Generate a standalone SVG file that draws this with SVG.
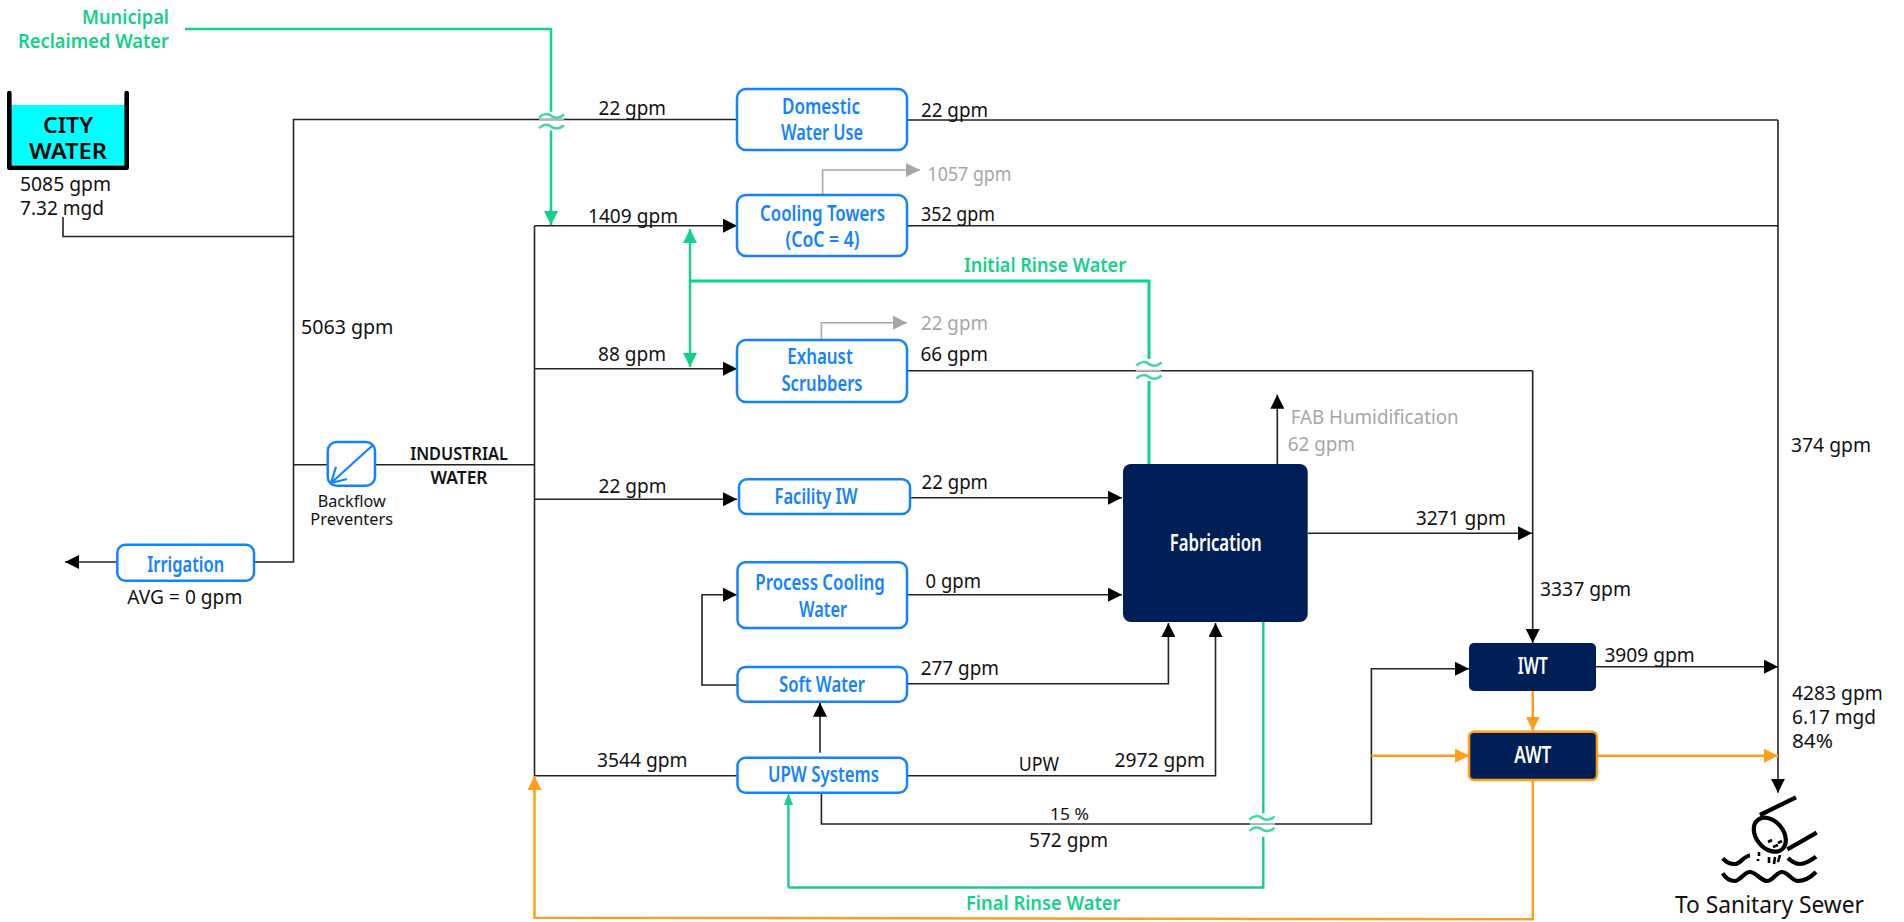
<svg xmlns="http://www.w3.org/2000/svg" xmlns:xlink="http://www.w3.org/1999/xlink" width="1904" height="922" viewBox="0 0 1904 922">
<style>
text{font-family:"Noto Sans","Open Sans","Liberation Sans",sans-serif;font-size:20px;fill:#111}
.g{fill:#a6a6a6}
.lb{font-weight:600;font-size:21.5px;fill:#1482ff;text-anchor:middle}
.gt{font-weight:600;font-size:20px;fill:#14d18a}
.wt{font-weight:600;font-size:23px;fill:#fff;text-anchor:middle}
.box{fill:#fff;stroke:#1482ff;stroke-width:2.5}
.navy{fill:#001f56}
.k{fill:none;stroke:#222;stroke-width:1.6}
.gr{fill:none;stroke:#a6a6a6;stroke-width:1.6}
.gn{fill:none;stroke:#14d18a;stroke-width:3}
.or{fill:none;stroke:#ff9e1b;stroke-width:2.5}
.ak{marker-end:url(#ak)}
.agr{marker-end:url(#agr)}
.agn{marker-end:url(#agn)}
.aor{marker-end:url(#aor)}
.wave{fill:none;stroke:#3fd8a0;stroke-width:2.5}
.seg{fill:none;stroke:#b5b5b5;stroke-width:1.8}
.ic{fill:none;stroke:#000;stroke-width:4.2}
.id{fill:none;stroke:#000;stroke-width:2.6}
</style>
<defs>
<marker id="ak" markerUnits="userSpaceOnUse" markerWidth="14" markerHeight="14" viewBox="0 0 13 13" refX="13" refY="6.5" orient="auto"><path d="M0 0L13 6.5L0 13Z" fill="#000"/></marker>
<marker id="agr" markerUnits="userSpaceOnUse" markerWidth="14" markerHeight="14" viewBox="0 0 13 13" refX="13" refY="6.5" orient="auto"><path d="M0 0L13 6.5L0 13Z" fill="#a6a6a6"/></marker>
<marker id="agn" markerUnits="userSpaceOnUse" markerWidth="14" markerHeight="14" viewBox="0 0 13 13" refX="13" refY="6.5" orient="auto"><path d="M0 0L13 6.5L0 13Z" fill="#14d18a"/></marker>
<marker id="aor" markerUnits="userSpaceOnUse" markerWidth="14" markerHeight="14" viewBox="0 0 13 13" refX="13" refY="6.5" orient="auto"><path d="M0 0L13 6.5L0 13Z" fill="#ff9e1b"/></marker>
<path id="w" class="wave" d="M-12.5 1.5C-8-3-3-2.5 0 0S8 2.5 12.5-1.5"/>
</defs>

<g id="connectors">
<path class="k" d="M63 217V236.5H293.5"/>
<path class="k" d="M738 119.5H293.5V562H254"/>
<path class="k ak" d="M117 562H65"/>
<path class="k" d="M293.5 464.7H328M375 464.7H534.5"/>
<path class="k" d="M907 120H1778"/>
<path class="k" d="M907 225.7H1778"/>
<path class="k ak" d="M1778 120V792.7"/>
<path class="k ak" d="M534.5 225.7H737"/>
<path class="k" d="M534.5 225.7V775.7H737"/>
<path class="k ak" d="M534.5 368.7H737"/>
<path class="k ak" d="M534.5 499.3H737"/>
<path class="gr agr" d="M822.6 195V170H920"/>
<path class="gr agr" d="M821.4 340V322.7H907"/>
<path class="k" d="M907 370.7H1532.7"/>
<path class="k ak" d="M1532.7 370.7V643"/>
<path class="k ak" d="M910 497.7H1122"/>
<path class="k ak" d="M907 594.7H1122"/>
<path class="k ak" d="M737 685H702V594.7H737"/>
<path class="k ak" d="M907 683.7H1168.4V623"/>
<path class="k ak" d="M907 775.7H1215.5V623"/>
<path class="k ak" d="M820 752.7V702.7"/>
<path class="k ak" d="M821.4 792.7V824H1371.4V668.7H1469"/>
<path class="k ak" d="M1277.3 464V394.7"/>
<path class="k ak" d="M1308 533.3H1532"/>
<path class="k ak" d="M1596 666.7H1778"/>
<path class="or aor" d="M1532.8 691V730.7"/>
<path class="or aor" d="M1371.4 755.7H1469"/>
<path class="or aor" d="M1597 755.7H1778"/>
<path class="or aor" d="M1532.8 780V919.3L534.5 917.7V776"/>
<path class="gn" style="stroke-width:2.6" d="M185 29H551V111.7"/>
<path class="gn agn" style="stroke-width:2.6" d="M551 130.7V225"/>
<path class="gn" d="M1149 464V381M1149 359V281H690"/>
<path class="gn agn" style="stroke-width:2.4" d="M690 281V229"/>
<path class="gn agn" style="stroke-width:2.4" d="M690 281V367"/>
<path class="gn" style="stroke-width:2.4" d="M1263.3 622V813.3M1263.3 836.7V887.5H788.4"/>
<path class="gn" style="stroke-width:2.4" d="M788.4 887.5V800"/>
<path fill="#14d18a" d="M788.4 793L793 805H784Z"/>
<path class="seg" d="M539 119.5H564M1136 370.7H1161M1250 824H1275"/>
<use xlink:href="#w" x="551.5" y="116"/>
<use xlink:href="#w" x="551.5" y="126.7"/>
<use xlink:href="#w" x="1149" y="364"/>
<use xlink:href="#w" x="1149" y="377"/>
<use xlink:href="#w" x="1262" y="818"/>
<use xlink:href="#w" x="1262" y="829.3"/>
</g>

<g id="city-water">
<rect x="10" y="105" width="116" height="60" fill="#00ffff"/>
<path fill="none" stroke="#000" stroke-width="4.6" stroke-linejoin="round" stroke-linecap="round" d="M9.3 93V167.7H126.7V93"/>
<text x="68" y="132.7" text-anchor="middle" textLength="50" lengthAdjust="spacingAndGlyphs" style="font-size:21.5px;font-weight:600;fill:#000">CITY</text>
<text x="68" y="159" text-anchor="middle" textLength="78" lengthAdjust="spacingAndGlyphs" style="font-size:21.5px;font-weight:600;fill:#000">WATER</text>
<text x="20" y="191" textLength="91" lengthAdjust="spacingAndGlyphs">5085 gpm</text>
<text x="20" y="215" textLength="84" lengthAdjust="spacingAndGlyphs">7.32 mgd</text>
</g>

<g id="municipal">
<text class="gt" x="169" y="24" text-anchor="end" textLength="87" lengthAdjust="spacingAndGlyphs">Municipal</text>
<text class="gt" x="169" y="48" text-anchor="end" textLength="151" lengthAdjust="spacingAndGlyphs">Reclaimed Water</text>
</g>

<g id="domestic">
<rect class="box" x="737" y="89" width="170" height="61" rx="9"/>
<text class="lb" x="821" y="114" textLength="78" lengthAdjust="spacingAndGlyphs">Domestic</text>
<text class="lb" x="822" y="140" textLength="82" lengthAdjust="spacingAndGlyphs">Water Use</text>
</g>
<g id="cooling-towers">
<rect class="box" x="737" y="195" width="170" height="61" rx="9"/>
<text class="lb" x="822.5" y="220.7" textLength="125" lengthAdjust="spacingAndGlyphs">Cooling Towers</text>
<text class="lb" x="822.5" y="247" textLength="74" lengthAdjust="spacingAndGlyphs">(CoC = 4)</text>
</g>
<g id="exhaust-scrubbers">
<rect class="box" x="737" y="340" width="170" height="62" rx="9"/>
<text class="lb" x="820" y="364" textLength="65.5" lengthAdjust="spacingAndGlyphs">Exhaust</text>
<text class="lb" x="822" y="390.7" textLength="81" lengthAdjust="spacingAndGlyphs">Scrubbers</text>
</g>
<g id="facility-iw">
<rect class="box" x="739" y="479.3" width="171" height="34.7" rx="8"/>
<text class="lb" x="816" y="504" textLength="83" lengthAdjust="spacingAndGlyphs">Facility IW</text>
</g>
<g id="process-cooling">
<rect class="box" x="737.5" y="562.3" width="169.5" height="65.7" rx="8"/>
<text class="lb" x="820" y="590" textLength="129.4" lengthAdjust="spacingAndGlyphs">Process Cooling</text>
<text class="lb" x="823" y="616.7" textLength="48" lengthAdjust="spacingAndGlyphs">Water</text>
</g>
<g id="soft-water">
<rect class="box" x="737.5" y="667" width="169.5" height="34.7" rx="8"/>
<text class="lb" x="822" y="691.7" textLength="85.8" lengthAdjust="spacingAndGlyphs">Soft Water</text>
</g>
<g id="upw-systems">
<rect class="box" x="737.5" y="757.7" width="169.5" height="35" rx="8"/>
<text class="lb" x="823.5" y="782" textLength="111" lengthAdjust="spacingAndGlyphs">UPW Systems</text>
</g>
<g id="irrigation">
<rect class="box" x="117.3" y="544.7" width="136.7" height="36" rx="8"/>
<text class="lb" x="185.7" y="572" textLength="77" lengthAdjust="spacingAndGlyphs">Irrigation</text>
<text x="127.3" y="604" textLength="115" lengthAdjust="spacingAndGlyphs">AVG = 0 gpm</text>
</g>
<g id="backflow-preventers">
<rect class="box" x="327.7" y="442" width="47.3" height="43.7" rx="9"/>
<path fill="none" stroke="#1482ff" stroke-width="2.2" d="M373 445L331 483M336 466.7L331 483L347 479"/>
<text x="351.7" y="506.7" text-anchor="middle" textLength="68" lengthAdjust="spacingAndGlyphs" style="font-size:16px">Backflow</text>
<text x="351.7" y="525" text-anchor="middle" textLength="82.7" lengthAdjust="spacingAndGlyphs" style="font-size:16px">Preventers</text>
</g>
<g id="industrial-water">
<text x="459" y="460" text-anchor="middle" textLength="97.7" lengthAdjust="spacingAndGlyphs" style="font-size:17px;font-weight:600">INDUSTRIAL</text>
<text x="459" y="484" text-anchor="middle" textLength="57" lengthAdjust="spacingAndGlyphs" style="font-size:17px;font-weight:600">WATER</text>
</g>
<g id="fabrication">
<rect class="navy" x="1123" y="464" width="184.7" height="158" rx="8"/>
<text class="wt" x="1215.7" y="550.7" textLength="92" lengthAdjust="spacingAndGlyphs">Fabrication</text>
</g>
<g id="iwt">
<rect class="navy" x="1469" y="643" width="127" height="48" rx="5"/>
<text class="wt" x="1532.8" y="674.3" textLength="30" lengthAdjust="spacingAndGlyphs">IWT</text>
</g>
<g id="awt">
<rect class="navy" x="1469" y="731.7" width="128" height="48.3" rx="5" stroke="#ff9e1b" stroke-width="2.5"/>
<text class="wt" x="1532.8" y="763.3" textLength="37" lengthAdjust="spacingAndGlyphs">AWT</text>
</g>
<g id="sanitary-sewer">
<ellipse class="ic" cx="1769.8" cy="834.7" rx="19" ry="13.5" transform="rotate(50 1769.8 834.7)"/>
<path class="ic" d="M1760 815L1796 797.3M1787.3 849.3L1816.7 832.7"/>
<path class="ic" d="M1722.7 858.3C1726 862 1730 864 1735 864S1744 856 1750 855.5M1788 858C1792 862 1796 864 1800 864S1812 860 1816 856.7"/>
<path class="ic" d="M1722.7 873.3C1726 879 1730 881 1735 881S1744 872 1750 872S1761 881 1767 881S1776 872 1782 872S1792 881 1798 881S1810 878 1816 872"/>
<path class="id" d="M1768 842L1772 840M1778 843L1782 841M1773 847L1778 845M1759 852V856M1758 859V861M1769 857V863M1775 857L1774 864M1780 855L1778 862"/>
<text x="1675" y="913" textLength="189" lengthAdjust="spacingAndGlyphs" style="font-size:23px">To Sanitary Sewer</text>
</g>

<g id="flow-labels">
<text x="598.6" y="115" textLength="67.4" lengthAdjust="spacingAndGlyphs">22 gpm</text>
<text x="921" y="116.7" textLength="67" lengthAdjust="spacingAndGlyphs">22 gpm</text>
<text class="g" x="927.5" y="180.7" textLength="84" lengthAdjust="spacingAndGlyphs">1057 gpm</text>
<text x="588" y="222.7" textLength="90" lengthAdjust="spacingAndGlyphs">1409 gpm</text>
<text x="921" y="221" textLength="74" lengthAdjust="spacingAndGlyphs">352 gpm</text>
<text class="gt" x="964" y="272" textLength="162" lengthAdjust="spacingAndGlyphs">Initial Rinse Water</text>
<text class="g" x="921" y="330" textLength="67" lengthAdjust="spacingAndGlyphs">22 gpm</text>
<text x="598" y="361" textLength="68" lengthAdjust="spacingAndGlyphs">88 gpm</text>
<text x="920.5" y="361" textLength="67.5" lengthAdjust="spacingAndGlyphs">66 gpm</text>
<text x="301" y="334" textLength="92.4" lengthAdjust="spacingAndGlyphs">5063 gpm</text>
<text x="1791" y="451.7" textLength="80" lengthAdjust="spacingAndGlyphs">374 gpm</text>
<text class="g" x="1290.7" y="424" textLength="168" lengthAdjust="spacingAndGlyphs">FAB Humidification</text>
<text class="g" x="1287.7" y="451" textLength="67.3" lengthAdjust="spacingAndGlyphs">62 gpm</text>
<text x="598.6" y="493" textLength="68" lengthAdjust="spacingAndGlyphs">22 gpm</text>
<text x="921.6" y="488.5" textLength="66.4" lengthAdjust="spacingAndGlyphs">22 gpm</text>
<text x="1415.7" y="525" textLength="90.3" lengthAdjust="spacingAndGlyphs">3271 gpm</text>
<text x="1540" y="595.7" textLength="91" lengthAdjust="spacingAndGlyphs">3337 gpm</text>
<text x="925.6" y="588" textLength="55.4" lengthAdjust="spacingAndGlyphs">0 gpm</text>
<text x="920.7" y="675" textLength="78.3" lengthAdjust="spacingAndGlyphs">277 gpm</text>
<text x="597" y="767.3" textLength="90.6" lengthAdjust="spacingAndGlyphs">3544 gpm</text>
<text x="1018.7" y="770.7" textLength="40.3" lengthAdjust="spacingAndGlyphs">UPW</text>
<text x="1114.6" y="767" textLength="90.4" lengthAdjust="spacingAndGlyphs">2972 gpm</text>
<text x="1050" y="820" textLength="39" lengthAdjust="spacingAndGlyphs" style="font-size:17px">15 %</text>
<text x="1029" y="846.7" textLength="79" lengthAdjust="spacingAndGlyphs">572 gpm</text>
<text class="gt" x="966" y="910" textLength="154.5" lengthAdjust="spacingAndGlyphs">Final Rinse Water</text>
<text x="1604.4" y="661.7" textLength="90.3" lengthAdjust="spacingAndGlyphs">3909 gpm</text>
<text x="1792" y="700" textLength="90.8" lengthAdjust="spacingAndGlyphs">4283 gpm</text>
<text x="1792" y="724" textLength="84" lengthAdjust="spacingAndGlyphs">6.17 mgd</text>
<text x="1792" y="748" textLength="41" lengthAdjust="spacingAndGlyphs">84%</text>
</g>
</svg>
